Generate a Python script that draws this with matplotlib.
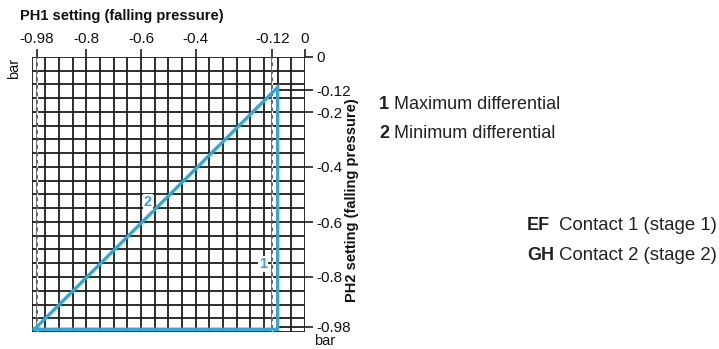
import matplotlib.pyplot as plt
import numpy as np

plt.rcParams['font.family'] = ['Liberation Sans', 'DejaVu Sans']

# tick values on both scales (bar)
x_ticks = [-0.98, -0.8, -0.6, -0.4, -0.12, 0]
x_labels = ["-0.98", "-0.8", "-0.6", "-0.4", "-0.12", "0"]
y_ticks = [0, -0.12, -0.2, -0.4, -0.6, -0.8, -0.98]
y_labels = ["0", "-0.12", "-0.2", "-0.4", "-0.6", "-0.8", "-0.98"]

# setting envelope (PH1, PH2) as drawn
env_x = [-0.99, -0.10, -0.10, -0.99]
env_y = [-0.99, -0.11, -0.99, -0.99]

# dashed reference settings
ref_x = [-0.98, -0.12]

grid_step = 0.05
blue = '#2aa8e0'
ink = '#1e1e1e'

W, H = 719, 349
fig = plt.figure(figsize=(W / 100, H / 100), dpi=100)
ax = fig.add_axes([31.7 / W, 1 - 332 / H, 273.3 / W, 275 / H])
ax.set_xlim(-1.0, 0)
ax.set_ylim(-1.0, 0)
for s in ax.spines.values():
    s.set_visible(False)

# grid
g = np.arange(-1.0, 0.001, grid_step)
ax.vlines(g, -1.0, 0, color=ink, lw=1.3, zorder=1)
ax.hlines(g, -1.0, 0, color=ink, lw=1.3, zorder=1)

# dashed reference lines
for v in ref_x:
    ax.axvline(v, color='#555555', lw=1.3, zorder=2)
    ax.axvline(v, color='white', lw=0.9, ls=(0, (3, 3)), zorder=2)

# extension lines to the right scale
ax.hlines([-0.12, -0.98], -0.10, 0, color=ink, lw=1.3, zorder=2)

# envelope
ax.plot(env_x, env_y, color=blue, lw=2.4, solid_joinstyle='miter', zorder=3, clip_on=False)

# scales
ax.xaxis.tick_top()
ax.set_xticks(x_ticks)
ax.set_xticklabels(x_labels)
ax.yaxis.tick_right()
ax.set_yticks(y_ticks)
ax.set_yticklabels(y_labels)
ax.tick_params(axis='both', direction='out', length=6, width=1.2, color=ink,
               labelsize=11, pad=2, labelcolor='#111111')

box = dict(facecolor='white', edgecolor='none', pad=0.6)
ax.text(-0.575, -0.527, "2", color=blue, fontsize=10.5, fontweight='bold',
        ha='center', va='center', bbox=box, zorder=4)
ax.text(-0.155, -0.753, "1", color=blue, fontsize=10.5, fontweight='bold',
        ha='center', va='center', bbox=box, zorder=4)


def ft(x, y, s, **kw):
    fig.text(x / W, 1 - y / H, s, **kw)


ft(20, 16, "PH1 setting (falling pressure)", fontsize=10.5, fontweight='bold', va='center', color='#111111')
ft(14, 68, "bar", fontsize=10.5, rotation=90, ha='center', va='center', color='#111111')
ft(325, 341, "bar", fontsize=10.5, ha='center', va='center', color='#111111')
ft(352, 200, "PH2 setting (falling pressure)", fontsize=10.5, fontweight='bold', rotation=90,
   ha='center', va='center', color='#111111')

ft(379, 104, "1", fontsize=13, fontweight='bold', va='center', color='#222222')
ft(394, 104, "Maximum differential", fontsize=13, va='center', color='#222222')
ft(379, 134, "2", fontsize=13, fontweight='bold', va='center', color='#222222')
ft(394, 134, "Minimum differential", fontsize=13, va='center', color='#222222')

ft(527, 226, "EF", fontsize=13, fontweight='bold', va='center', color='#222222')
ft(717, 226, "Contact 1 (stage 1)", fontsize=13.4, ha='right', va='center', color='#222222')
ft(527, 256, "GH", fontsize=13, fontweight='bold', va='center', color='#222222')
ft(717, 256, "Contact 2 (stage 2)", fontsize=13.4, ha='right', va='center', color='#222222')

fig.savefig("out.png", dpi=100)
